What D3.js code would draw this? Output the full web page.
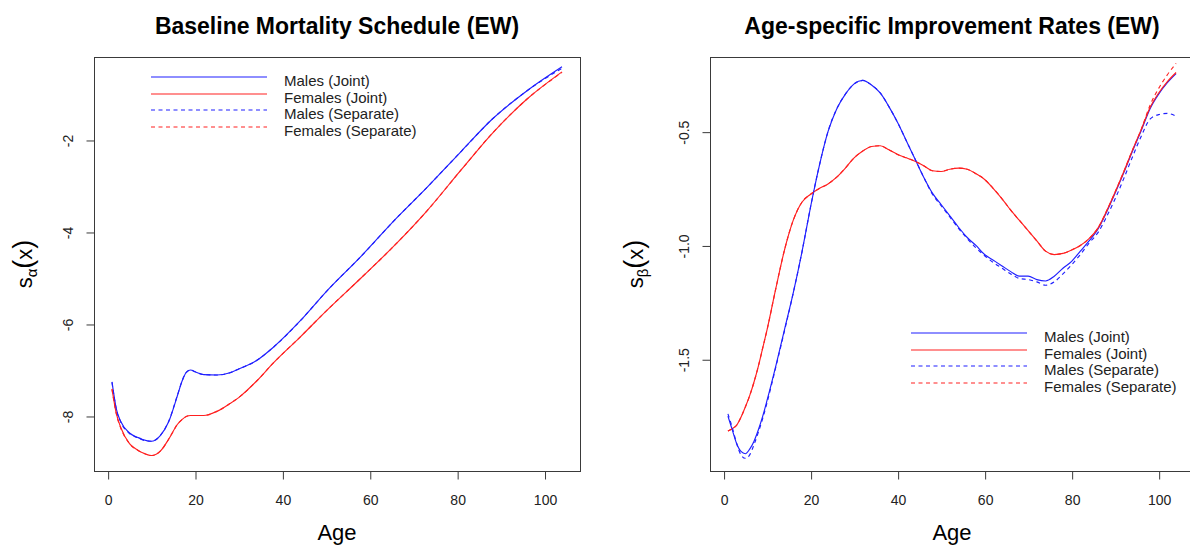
<!DOCTYPE html>
<html>
<head>
<meta charset="utf-8">
<script src="https://cdnjs.cloudflare.com/ajax/libs/d3/7.8.5/d3.min.js"></script>
<style>
  html, body { margin: 0; padding: 0; background: #fff; }
  svg { display: block; font-family: "Liberation Sans", Arial, Helvetica, sans-serif; }
</style>
</head>
<body>
<svg id="chart" width="1190" height="550"></svg>
<script>
// ---------------- DATA ----------------
// Left panel: baseline mortality schedule s_alpha(x)
const agesA = [1, 2, 3, 5, 7, 8, 10, 12, 14, 16, 17, 18, 19, 20, 22, 25, 28, 30, 34, 38, 44, 50, 58, 66, 73, 81, 88, 96, 104];
const alphaMalesJoint = [-7.26, -7.85, -8.12, -8.37, -8.47, -8.51, -8.55, -8.43, -8.12, -7.55, -7.25, -7.05, -7.00, -7.04, -7.10, -7.11, -7.06, -6.98, -6.80, -6.50, -5.94, -5.30, -4.53, -3.71, -3.04, -2.24, -1.55, -0.93, -0.41];
const alphaFemalesJoint = [-7.41, -7.95, -8.25, -8.60, -8.75, -8.80, -8.86, -8.77, -8.50, -8.18, -8.08, -8.01, -7.99, -7.99, -7.99, -7.90, -7.73, -7.60, -7.25, -6.84, -6.29, -5.72, -5.00, -4.26, -3.55, -2.64, -1.86, -1.11, -0.52];
const alphaMalesSep = [-7.27, -7.86, -8.13, -8.38, -8.48, -8.52, -8.55, -8.43, -8.11, -7.54, -7.25, -7.05, -7.00, -7.04, -7.10, -7.11, -7.06, -6.98, -6.80, -6.50, -5.94, -5.30, -4.53, -3.71, -3.04, -2.24, -1.55, -0.93, -0.44];
const alphaFemalesSep = [-7.42, -7.96, -8.26, -8.60, -8.75, -8.80, -8.86, -8.77, -8.50, -8.18, -8.08, -8.01, -7.99, -7.99, -7.99, -7.90, -7.73, -7.60, -7.25, -6.84, -6.29, -5.72, -5.00, -4.26, -3.55, -2.64, -1.86, -1.11, -0.53];

// Right panel: age-specific improvement rates s_beta(x)
const agesB = [1, 2, 3, 4, 5, 6, 7, 8, 9, 10, 12, 14, 16, 18, 20, 22, 24, 26, 28, 30, 32, 34, 36, 38, 40, 42, 44, 46, 48, 50, 52, 54, 56, 58, 60, 62, 64, 66, 68, 70, 72, 74, 76, 78, 80, 82, 84, 86, 88, 90, 92, 94, 96, 98, 100, 102, 104];
const betaMalesJoint = [-1.75, -1.81, -1.87, -1.905, -1.915, -1.895, -1.86, -1.81, -1.75, -1.68, -1.53, -1.37, -1.21, -1.03, -0.83, -0.65, -0.50, -0.40, -0.335, -0.29, -0.275, -0.295, -0.33, -0.39, -0.46, -0.54, -0.62, -0.70, -0.77, -0.82, -0.87, -0.92, -0.965, -1.00, -1.04, -1.065, -1.09, -1.115, -1.135, -1.135, -1.15, -1.156, -1.135, -1.10, -1.07, -1.025, -0.98, -0.93, -0.855, -0.77, -0.68, -0.585, -0.495, -0.40, -0.335, -0.285, -0.245];
const betaFemalesJoint = [-1.815, -1.805, -1.79, -1.755, -1.71, -1.66, -1.60, -1.53, -1.45, -1.37, -1.19, -1.02, -0.89, -0.81, -0.775, -0.75, -0.73, -0.70, -0.66, -0.615, -0.585, -0.565, -0.562, -0.58, -0.60, -0.615, -0.63, -0.65, -0.672, -0.675, -0.665, -0.66, -0.665, -0.685, -0.71, -0.75, -0.795, -0.845, -0.89, -0.935, -0.98, -1.025, -1.04, -1.035, -1.02, -1.00, -0.97, -0.925, -0.85, -0.765, -0.675, -0.58, -0.49, -0.395, -0.33, -0.28, -0.24];
const betaMalesSep = [-1.74, -1.80, -1.87, -1.92, -1.935, -1.92, -1.875, -1.82, -1.76, -1.69, -1.535, -1.375, -1.21, -1.03, -0.83, -0.65, -0.50, -0.40, -0.335, -0.29, -0.275, -0.295, -0.33, -0.39, -0.46, -0.54, -0.62, -0.70, -0.775, -0.825, -0.875, -0.925, -0.97, -1.01, -1.045, -1.075, -1.10, -1.125, -1.145, -1.15, -1.16, -1.175, -1.16, -1.125, -1.085, -1.04, -0.99, -0.945, -0.875, -0.795, -0.705, -0.61, -0.52, -0.445, -0.425, -0.42, -0.432];
const betaFemalesSep = [-1.815, -1.805, -1.79, -1.755, -1.71, -1.66, -1.60, -1.53, -1.45, -1.37, -1.19, -1.02, -0.89, -0.81, -0.775, -0.75, -0.73, -0.70, -0.66, -0.615, -0.585, -0.565, -0.562, -0.58, -0.60, -0.615, -0.63, -0.65, -0.672, -0.675, -0.665, -0.66, -0.665, -0.685, -0.71, -0.75, -0.795, -0.845, -0.89, -0.935, -0.98, -1.025, -1.04, -1.035, -1.02, -1.00, -0.97, -0.925, -0.85, -0.765, -0.675, -0.58, -0.49, -0.385, -0.31, -0.25, -0.20];

const xTicks = [0, 20, 40, 60, 80, 100];
const yTicksA = [-8, -6, -4, -2];
const yTicksB = [-1.5, -1.0, -0.5];
const seriesLabels = ["Males (Joint)", "Females (Joint)", "Males (Separate)", "Females (Separate)"];
const titles = ["Baseline Mortality Schedule (EW)", "Age-specific Improvement Rates (EW)"];
const xLabel = "Age";

// ---------------- STYLE ----------------
const colors = ["#1f1fff", "#ff2020", "#1f1fff", "#ff2020"];
const dashes = [null, null, "4,3.5", "4,3.5"];
const FRAME = "#3a3a3a";

const svg = d3.select("#chart");

function panel(cfg) {
  const x = d3.scaleLinear().domain([-3.12, 108.12]).range([cfg.left, cfg.right]);
  const y = d3.scaleLinear().domain(cfg.ydomain).range([cfg.bottom, cfg.top]);
  const g = svg.append("g");

  // series lines
  const line = d3.line()
    .x(d => x(d[0]))
    .y(d => y(d[1]))
    .curve(d3.curveMonotoneX);
  cfg.series.forEach((vals, i) => {
    const pts = cfg.ages.map((a, j) => [a, vals[j]]);
    g.append("path")
      .attr("d", line(pts))
      .attr("fill", "none")
      .attr("stroke", colors[i])
      .attr("stroke-width", 1.15)
      .attr("stroke-dasharray", dashes[i]);
  });

  // frame
  g.append("rect")
    .attr("x", cfg.left + 0.5).attr("y", cfg.top + 0.5)
    .attr("width", cfg.right - cfg.left).attr("height", cfg.bottom - cfg.top)
    .attr("fill", "none").attr("stroke", FRAME).attr("stroke-width", 1);

  // x axis
  const xa = g.append("g").attr("transform", `translate(0.5,${cfg.bottom + 0.5})`)
    .call(d3.axisBottom(x).tickValues(xTicks).tickSize(8).tickPadding(16).tickFormat(d3.format("d")));
  xa.select(".domain").remove();
  xa.selectAll("line").attr("stroke", FRAME);
  xa.selectAll("text").attr("font-size", 14).attr("fill", "#222").attr("font-family", "Liberation Sans, Arial, sans-serif");

  // y axis
  const ya = g.append("g").attr("transform", `translate(${cfg.left + 0.5},0.5)`)
    .call(d3.axisLeft(y).tickValues(cfg.yticks).tickSize(8).tickFormat(cfg.yfmt));
  ya.select(".domain").remove();
  ya.selectAll("line").attr("stroke", FRAME);
  ya.selectAll("text")
    .attr("font-size", 14).attr("fill", "#222").attr("font-family", "Liberation Sans, Arial, sans-serif")
    .attr("transform", "rotate(-90)")
    .attr("x", 0).attr("y", -22).attr("dy", 0)
    .attr("text-anchor", "middle");

  const cx = (cfg.left + cfg.right) / 2;
  // title
  g.append("text").attr("x", cx).attr("y", 34)
    .attr("text-anchor", "middle").attr("font-weight", "bold").attr("font-size", 23)
    .text(cfg.title);
  // x label
  g.append("text").attr("x", cx).attr("y", 540)
    .attr("text-anchor", "middle").attr("font-size", 22)
    .text(xLabel);
  // y label: s_sym(x)
  const cy = (cfg.top + cfg.bottom) / 2;
  const yl = g.append("text")
    .attr("transform", `translate(${cfg.ylabX},${cy}) rotate(-90)`)
    .attr("text-anchor", "middle").attr("font-size", 22);
  yl.append("tspan").text("s");
  yl.append("tspan").attr("font-size", 15).attr("dy", 5).text(cfg.sym);
  yl.append("tspan").attr("dy", -5).attr("font-size", 27).text("(");
  yl.append("tspan").attr("font-size", 22).text("x");
  yl.append("tspan").attr("font-size", 27).text(")");

  // legend
  const lg = g.append("g");
  seriesLabels.forEach((lab, i) => {
    const ly = Math.round(cfg.legY + i * 16.5);
    lg.append("line")
      .attr("x1", cfg.legX).attr("x2", cfg.legX + 116)
      .attr("y1", ly).attr("y2", ly)
      .attr("stroke", colors[i]).attr("stroke-width", 1.2)
      .attr("stroke-dasharray", dashes[i]);
    lg.append("text").attr("x", cfg.legX + 133).attr("y", ly + 9)
      .attr("font-size", 15).attr("fill", "#222").text(lab);
  });
}

panel({
  left: 94, right: 580, top: 57, bottom: 471,
  ydomain: [-9.196, -0.196],
  yticks: yTicksA, yfmt: d => String(d),
  ages: agesA,
  series: [alphaMalesJoint, alphaFemalesJoint, alphaMalesSep, alphaFemalesSep],
  title: titles[0], sym: "α", ylabX: 32,
  legX: 151, legY: 77
});

panel({
  left: 710, right: 1194, top: 57, bottom: 471,
  ydomain: [-1.991, -0.172],
  yticks: yTicksB, yfmt: d => d.toFixed(1),
  ages: agesB,
  series: [betaMalesJoint, betaFemalesJoint, betaMalesSep, betaFemalesSep],
  title: titles[1], sym: "β", ylabX: 643,
  legX: 911, legY: 333
});
</script>
</body>
</html>
